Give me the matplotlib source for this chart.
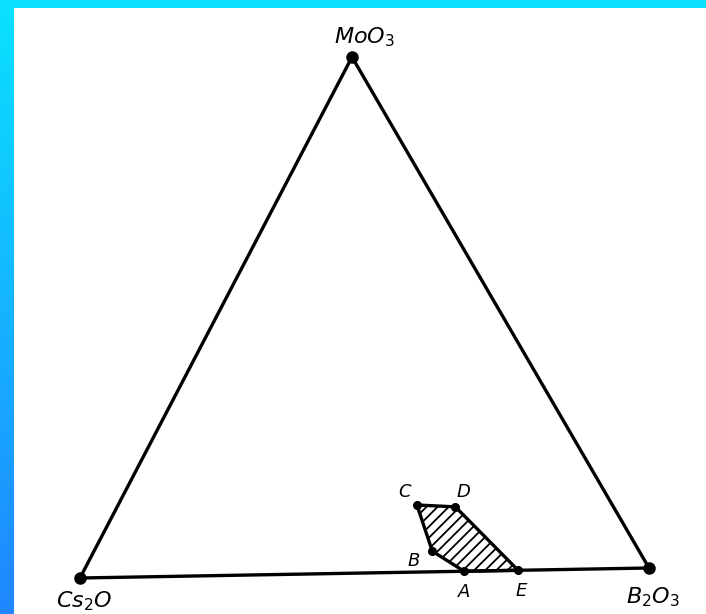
import numpy as np
import matplotlib
matplotlib.use("Agg")
import matplotlib.pyplot as plt
from matplotlib.patches import Polygon, Rectangle

# ---- data: ternary compositions (mole fractions) ----
components = ["Cs₂O", "B₂O₃", "MoO₃"]
component_tex = {"Cs₂O": r"$Cs_2O$", "B₂O₃": r"$B_2O_3$", "MoO₃": r"$MoO_3$"}
region_labels = ["C", "D", "E", "A", "B"]
region_b2o3 = [0.53, 0.60, 0.77, 0.675, 0.60]
region_moo3 = [0.13, 0.125, 0.0, 0.0, 0.04]

# ---- layout ----
W, H = 706, 614
corner_px = {"Cs₂O": (80, 578), "B₂O₃": (649, 568), "MoO₃": (352, 57)}
corner_label_off = {"Cs₂O": (4, 23), "B₂O₃": (4, 29), "MoO₃": (12, -20)}
point_label_off = {"C": (-12, -13), "D": (8, -15), "E": (3, 21), "A": (0, 21), "B": (-19, 10)}

plt.rcParams['hatch.linewidth'] = 1.3
plt.rcParams['mathtext.fontset'] = 'dejavusans'

fig = plt.figure(figsize=(W / 100, H / 100), dpi=100)

# background gradient
bg = fig.add_axes([0, 0, 1, 1])
bg.axis('off')
top = np.array([10, 226, 255]) / 255
bot = np.array([32, 134, 255]) / 255
t = np.linspace(0, 1, 256)[:, None, None]
grad = (1 - t) * top + t * bot
bg.imshow(grad, aspect='auto', extent=[0, W, H, 0])
bg.set_xlim(0, W)
bg.set_ylim(H, 0)
bg.add_patch(Rectangle((14, 8), W - 14, H - 8, facecolor='white', edgecolor='none'))

ax = fig.add_axes([0, 0, 1, 1])
ax.patch.set_alpha(0)
ax.set_xlim(0, W)
ax.set_ylim(H, 0)
ax.axis('off')

C = np.array([corner_px[c] for c in components], dtype=float)


def project(b2o3, moo3):
    b2o3 = np.asarray(b2o3, float)
    moo3 = np.asarray(moo3, float)
    cs = 1 - b2o3 - moo3
    w = np.stack([cs, b2o3, moo3], axis=-1)
    return w @ C


# triangle
tri = project([0, 1, 0, 0], [0, 0, 1, 0])
ax.plot(tri[:, 0], tri[:, 1], color='black', lw=2.4, solid_joinstyle='round', zorder=3)
corners = project([0, 1, 0], [0, 0, 1])
ax.plot(corners[:, 0], corners[:, 1], 'o', color='black', ms=8, zorder=4)
for name, (x, y) in zip(components, corners):
    dx, dy = corner_label_off[name]
    ax.text(x + dx, y + dy, component_tex[name], fontsize=16, ha='center', va='center', color='black')

# hatched region
pts = project(region_b2o3, region_moo3)
poly = Polygon(pts, closed=True, facecolor='none', edgecolor='black', hatch='///', lw=2.4, zorder=3)
ax.add_patch(poly)
ax.plot(pts[:, 0], pts[:, 1], 'o', color='black', ms=5.5, zorder=4)
for lab, (x, y) in zip(region_labels, pts):
    dx, dy = point_label_off[lab]
    ax.text(x + dx, y + dy, lab, fontsize=13, ha='center', va='center', style='italic', color='black')

fig.savefig('out.png', dpi=100)
